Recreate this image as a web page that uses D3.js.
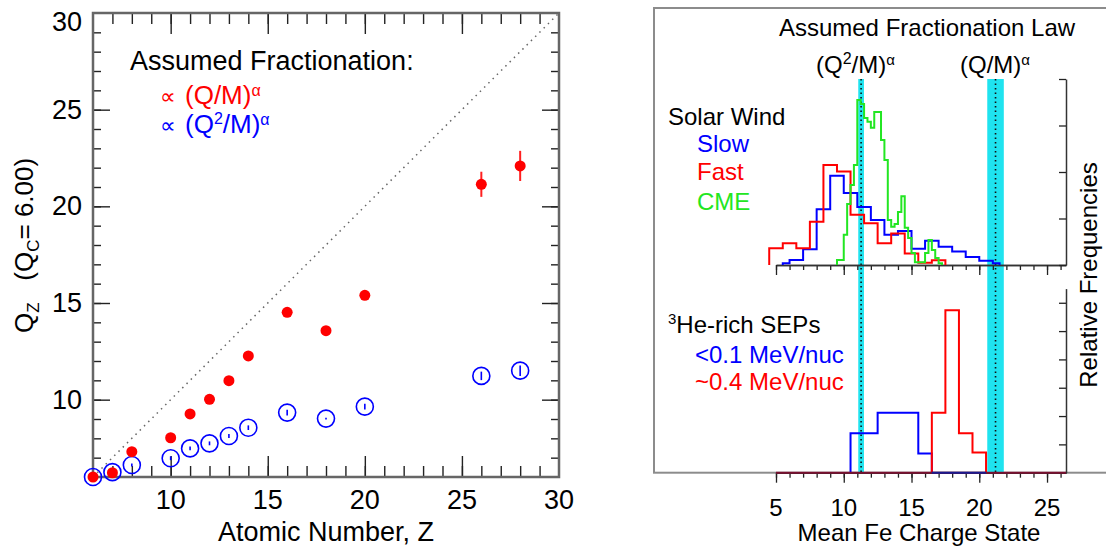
<!DOCTYPE html>
<html>
<head>
<meta charset="utf-8">
<script src="https://cdn.jsdelivr.net/npm/d3@7"></script>
<style>
  body { margin: 0; background: #fff; }
  svg { font-family: "Liberation Sans", Arial, Helvetica, sans-serif; }
</style>
</head>
<body>
<div id="chart"></div>
<script>
const width = 1106,
  height = 550;

// ---- left panel: charge state Q_Z vs atomic number ----
const atomicNumbers = [6, 7, 8, 10, 11, 12, 13, 14, 16, 18, 20, 26, 28];
const qzQoverM = [6.0, 6.22, 7.31, 8.03, 9.26, 10.02, 10.98, 12.26, 14.52, 13.57, 15.40, 21.14, 22.09];
const qzQoverMErr = [0.05, 0.05, 0.05, 0.05, 0.05, 0.05, 0.05, 0.1, 0.2, 0.1, 0.1, 0.65, 0.78];
const qzQ2overM = [6.0, 6.25, 6.62, 6.97, 7.48, 7.74, 8.12, 8.55, 9.33, 9.02, 9.64, 11.23, 11.50];
const qzQ2overMErr = [0.02, 0.05, 0.08, 0.1, 0.1, 0.1, 0.1, 0.12, 0.15, 0.05, 0.15, 0.22, 0.27];
const leftTickLabels = [10, 15, 20, 25, 30];

// ---- right panel: Fe charge state histograms ----
const slowEdges = [5.5, 6, 7, 8, 9, 10, 11, 12, 13, 14, 15, 16, 17, 18, 19, 20, 21, 21.5];
const slowFreq = [0.04, 0.11, 0.34, 1.20, 1.92, 1.55, 1.25, 0.97, 0.65, 0.73, 0.35, 0.52, 0.39, 0.29, 0.17, 0.09, 0.04];
const fastEdges = [4.5, 5.5, 6.5, 7.5, 8.5, 9.5, 10.5, 11.5, 12.5, 13.5, 14.5, 15.5, 16.5, 17.5];
const fastFreq = [0.36, 0.47, 0.36, 0.93, 2.15, 2.01, 1.08, 0.90, 0.47, 0.68, 0.25, 0.05, 0.10];
const cmeEdges = [9.5, 9.75, 10, 10.25, 10.5, 10.75, 11, 11.25, 11.5, 11.75, 12, 12.25, 12.5, 12.75, 13, 13.25,
  13.5, 13.75, 14, 14.25, 14.5, 14.75, 15, 15.25, 15.5, 15.75, 16, 16.25, 16.5, 16.75, 17, 17.25];
const cmeFreq = [0.11, 0.11, 0.65, 1.31, 1.72, 2.15, 3.55, 3.46, 3.16, 3.08, 2.95, 3.29, 3.29, 2.69, 2.26, 0.97,
  0.82, 0.88, 1.14, 1.48, 0.80, 0.58, 0.26, 0.06, 0.06, 0.06, 0.26, 0.54, 0.32, 0.15, 0.04];
const sepLowEdges = [10.5, 12.5, 15.5, 16.5];
const sepLowFreq = [1.39, 2.12, 0.68];
const sepHighEdges = [16.5, 17.5, 18.5, 19.5, 20.5];
const sepHighFreq = [2.12, 5.74, 1.39, 0.71];
// predicted Fe charge for each fractionation law (centre, half width)
const lawCenters = [11.28, 21.2];
const lawHalfWidths = [0.21, 0.61];
const feTickLabels = [5, 10, 15, 20, 25];

const svg = d3.select("#chart")
  .append("svg")
  .attr("width", width)
  .attr("height", height);

// ================= left panel =================
const xZ = d3.scaleLinear().domain([6, 30]).range([93, 559]);
const yQ = d3.scaleLinear().domain([6, 30]).range([477, 13]);
const left = svg.append("g");

function tickGroup(g, axis, tr) {
  const a = g.append("g").attr("transform", tr).call(axis);
  a.select(".domain").remove();
  a.selectAll("line").attr("stroke", "#222").attr("stroke-width", 1.4);
  return a;
}
const minorZ = d3.range(7, 30);
const majorZ = [10, 15, 20, 25];
tickGroup(left, d3.axisBottom(xZ).tickValues(minorZ).tickSize(-11).tickFormat(""), "translate(0,477)");
tickGroup(left, d3.axisBottom(xZ).tickValues(majorZ).tickSize(-21).tickFormat(""), "translate(0,477)");
tickGroup(left, d3.axisTop(xZ).tickValues(minorZ).tickSize(-11).tickFormat(""), "translate(0,13)");
tickGroup(left, d3.axisTop(xZ).tickValues(majorZ).tickSize(-21).tickFormat(""), "translate(0,13)");
tickGroup(left, d3.axisLeft(yQ).tickValues(minorZ).tickSize(-8).tickFormat(""), "translate(93,0)");
tickGroup(left, d3.axisLeft(yQ).tickValues(majorZ).tickSize(-17).tickFormat(""), "translate(93,0)");
tickGroup(left, d3.axisRight(yQ).tickValues(minorZ).tickSize(-8).tickFormat(""), "translate(559,0)");
tickGroup(left, d3.axisRight(yQ).tickValues(majorZ).tickSize(-17).tickFormat(""), "translate(559,0)");

left.append("rect")
  .attr("x", xZ(6)).attr("y", yQ(30))
  .attr("width", xZ(30) - xZ(6)).attr("height", yQ(6) - yQ(30))
  .attr("fill", "none").attr("stroke", "#666").attr("stroke-width", 2.5);

// tick labels
left.selectAll("text.xl").data(leftTickLabels).join("text")
  .attr("x", d => xZ(d)).attr("y", 509)
  .attr("text-anchor", "middle").attr("font-size", 27)
  .text(d => d);
left.selectAll("text.yl").data(leftTickLabels).join("text")
  .attr("x", 82).attr("y", d => Math.max(yQ(d) + 9, 31))
  .attr("text-anchor", "end").attr("font-size", 27)
  .text(d => d);

left.append("text")
  .attr("x", (xZ(6) + xZ(30)) / 2).attr("y", 541)
  .attr("text-anchor", "middle").attr("font-size", 27)
  .text("Atomic Number, Z");

// y label: Q_Z   (Q_C= 6.00)
const ylab = left.append("text")
  .attr("transform", "translate(33,333) rotate(-90)")
  .attr("font-size", 26).style("white-space", "pre");
ylab.append("tspan").text("Q");
ylab.append("tspan").attr("font-size", 17).attr("dy", 6).text("Z");
ylab.append("tspan").attr("dy", -6).text("   (Q");
ylab.append("tspan").attr("font-size", 17).attr("dy", 6).text("C");
ylab.append("tspan").attr("dy", -6).text("= 6.00)");

// y = x reference
left.append("line")
  .attr("x1", xZ(6)).attr("y1", yQ(6)).attr("x2", xZ(30)).attr("y2", yQ(30))
  .attr("stroke", "#666").attr("stroke-width", 1.5).attr("stroke-dasharray", "1.5,4.5");

// points
const pts = atomicNumbers.map((z, i) => ({
  z: z, a: qzQoverM[i], ae: qzQoverMErr[i], b: qzQ2overM[i], be: qzQ2overMErr[i]
}));

left.selectAll("circle.blue").data(pts).join("circle")
  .attr("cx", d => xZ(d.z)).attr("cy", d => yQ(d.b)).attr("r", 8.5)
  .attr("fill", "none").attr("stroke", "#0000ff").attr("stroke-width", 1.6);
left.selectAll("line.blueErr").data(pts).join("line")
  .attr("x1", d => xZ(d.z)).attr("x2", d => xZ(d.z))
  .attr("y1", d => yQ(d.b - d.be)).attr("y2", d => yQ(d.b + d.be))
  .attr("stroke", "#0000ff").attr("stroke-width", 1.6);
left.selectAll("line.redErr").data(pts).join("line")
  .attr("x1", d => xZ(d.z)).attr("x2", d => xZ(d.z))
  .attr("y1", d => yQ(d.a - d.ae)).attr("y2", d => yQ(d.a + d.ae))
  .attr("stroke", "#ff2020").attr("stroke-width", 2);
left.selectAll("circle.red").data(pts).join("circle")
  .attr("cx", d => xZ(d.z)).attr("cy", d => yQ(d.a)).attr("r", 5.5)
  .attr("fill", "#ff0000");

// legend
left.append("text").attr("x", 130).attr("y", 70).attr("font-size", 27)
  .text("Assumed Fractionation:");
const lr = left.append("text").attr("x", 160).attr("y", 104).attr("font-size", 26).attr("fill", "#ff0000");
lr.append("tspan").attr("font-size", 22).text("\u221D");
lr.append("tspan").attr("x", 185).text("(Q/M)");
lr.append("tspan").attr("font-size", 16).attr("dy", -8).text("\u03B1");
const lb = left.append("text").attr("x", 160).attr("y", 133).attr("font-size", 26).attr("fill", "#0000ff");
lb.append("tspan").attr("font-size", 22).text("\u221D");
lb.append("tspan").attr("x", 185).text("(Q");
lb.append("tspan").attr("font-size", 16).attr("dy", -9).text("2");
lb.append("tspan").attr("dy", 9).text("/M)");
lb.append("tspan").attr("font-size", 16).attr("dy", -8).text("\u03B1");

// ================= right panel =================
const xF = d3.scaleLinear().domain([5, 26.4]).range([776, 1066]);
const yTop = d3.scaleLinear().domain([0, 4]).range([265, 79]);
const yBot = d3.scaleLinear().domain([0, 6.5]).range([472.7, 288.6]);
const right = svg.append("g");

right.append("rect")
  .attr("x", 654).attr("y", 8).attr("width", 480).attr("height", yBot(0) - 8)
  .attr("fill", "none").attr("stroke", "#8c8c8c").attr("stroke-width", 2);

// predicted bands
right.selectAll("rect.band").data(lawCenters).join("rect")
  .attr("x", (d, i) => xF(d - lawHalfWidths[i]))
  .attr("width", (d, i) => xF(d + lawHalfWidths[i]) - xF(d - lawHalfWidths[i]))
  .attr("y", yTop(4)).attr("height", yBot(0) - yTop(4))
  .attr("fill", "#1fe3ef");
right.selectAll("line.law").data(lawCenters).join("line")
  .attr("x1", d => xF(d)).attr("x2", d => xF(d))
  .attr("y1", yTop(4)).attr("y2", yBot(0))
  .attr("stroke", "#111").attr("stroke-width", 1.6).attr("stroke-dasharray", "1.5,3");

// axes
const minorF = d3.range(5, 27);
function axisGroup(g, axis, tr) {
  const a = g.append("g").attr("transform", tr).call(axis);
  a.selectAll("line").attr("stroke", "#222").attr("stroke-width", 1.3);
  a.select(".domain").attr("stroke", "#333").attr("stroke-width", 1.5);
  return a;
}
[yTop(0), yBot(0)].forEach(y0 => {
  axisGroup(right, d3.axisBottom(xF).tickValues(minorF).tickSize(5).tickSizeOuter(0).tickFormat(""), `translate(0,${y0})`);
  axisGroup(right, d3.axisBottom(xF).tickValues(feTickLabels).tickSize(10).tickSizeOuter(0).tickFormat(""), `translate(0,${y0})`);
});
axisGroup(right, d3.axisLeft(yTop).tickValues([0, 1, 2, 3, 4]).tickSize(7).tickSizeOuter(0).tickFormat(""), "translate(1066,0)");
axisGroup(right, d3.axisLeft(yBot).tickValues([0, 1, 2, 3, 4, 5, 6]).tickSize(7).tickSizeOuter(0).tickFormat(""), "translate(1066,0)");

// histograms (step lines)
function stepPoints(edges, vals) {
  const p = [[edges[0], 0]];
  vals.forEach((v, i) => p.push([edges[i], v]));
  p.push([edges[edges.length - 1], 0]);
  return p;
}
function drawHist(edges, vals, yScale, color) {
  const line = d3.line().curve(d3.curveStepAfter)
    .x(d => xF(d[0])).y(d => yScale(d[1]));
  right.append("path")
    .attr("d", line(stepPoints(edges, vals)))
    .attr("fill", "none").attr("stroke", color).attr("stroke-width", 2);
}
drawHist(slowEdges, slowFreq, yTop, "#0000ff");
drawHist(fastEdges, fastFreq, yTop, "#ff0000");
drawHist(cmeEdges, cmeFreq, yTop, "#22e622");
drawHist(sepLowEdges, sepLowFreq, yBot, "#0000ff");
drawHist(sepHighEdges, sepHighFreq, yBot, "#ff0000");

// zero line of the SEP histograms (red over blue looks dark)
right.append("line")
  .attr("x1", xF(5)).attr("x2", xF(26.4)).attr("y1", yBot(0)).attr("y2", yBot(0))
  .attr("stroke", "#7a1030").attr("stroke-width", 2);
right.append("line")
  .attr("x1", xF(sepHighEdges[0])).attr("x2", xF(sepHighEdges[sepHighEdges.length - 1]))
  .attr("y1", yBot(0)).attr("y2", yBot(0))
  .attr("stroke", "#1a1a90").attr("stroke-width", 2);

// x tick labels + title
right.selectAll("text.fl").data(feTickLabels).join("text")
  .attr("x", d => xF(d)).attr("y", 516)
  .attr("text-anchor", "middle").attr("font-size", 24)
  .text(d => d);
right.append("text").attr("x", 919).attr("y", 541)
  .attr("text-anchor", "middle").attr("font-size", 24)
  .text("Mean Fe Charge State");
right.append("text")
  .attr("transform", "translate(1097,275) rotate(-90)")
  .attr("text-anchor", "middle").attr("font-size", 24)
  .text("Relative Frequencies");

// labels of the fractionation laws
right.append("text").attr("x", 927).attr("y", 36)
  .attr("text-anchor", "middle").attr("font-size", 24)
  .text("Assumed Fractionation Law");
const l1 = right.append("text").attr("x", 816).attr("y", 73).attr("font-size", 24);
l1.append("tspan").text("(Q");
l1.append("tspan").attr("font-size", 16).attr("dy", -9).text("2");
l1.append("tspan").attr("dy", 9).text("/M)");
l1.append("tspan").attr("font-size", 15).attr("dy", -8).text("\u03B1");
const l2 = right.append("text").attr("x", 960).attr("y", 73).attr("font-size", 24);
l2.append("tspan").text("(Q/M)");
l2.append("tspan").attr("font-size", 15).attr("dy", -8).text("\u03B1");

// legends
right.append("text").attr("x", 668).attr("y", 125).attr("font-size", 24).text("Solar Wind");
right.append("text").attr("x", 697).attr("y", 152).attr("font-size", 24).attr("fill", "#0000ff").text("Slow");
right.append("text").attr("x", 697).attr("y", 180).attr("font-size", 24).attr("fill", "#ff0000").text("Fast");
right.append("text").attr("x", 697).attr("y", 210).attr("font-size", 24).attr("fill", "#22e622").text("CME");

const he = right.append("text").attr("x", 668).attr("y", 333).attr("font-size", 24);
he.append("tspan").attr("font-size", 15).attr("dy", -9).text("3");
he.append("tspan").attr("dy", 9).text("He-rich SEPs");
right.append("text").attr("x", 695).attr("y", 363).attr("font-size", 24).attr("fill", "#0000ff").text("<0.1 MeV/nuc");
right.append("text").attr("x", 695).attr("y", 390).attr("font-size", 24).attr("fill", "#ff0000").text("~0.4 MeV/nuc");
</script>
</body>
</html>
